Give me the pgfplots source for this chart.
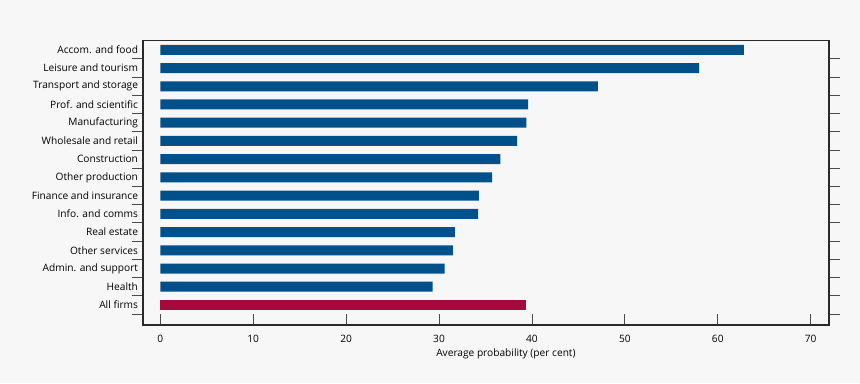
\documentclass[border=0pt]{standalone}
\usepackage{fontspec}
\setmainfont{Open Sans}
\usepackage{pgfplots}
\pgfplotsset{compat=1.18}
\definecolor{bg}{HTML}{F7F7F7}
\definecolor{boeblue}{HTML}{00518A}
\definecolor{boered}{HTML}{A6093D}
\definecolor{axcol}{HTML}{2A2A2A}
\definecolor{tickcol}{HTML}{4A4A4A}
\begin{document}
\begin{tikzpicture}[x=1bp,y=1bp]
\fill[bg] (-143,-58) rectangle (717,325);
\begin{axis}[
  at={(0,0)}, anchor=south west,
  scale only axis,
  width=686bp, height=284.3bp,
  xmin=-1.86, xmax=71.97,
  ymin=-1.1, ymax=14.5,
  axis line style={axcol, line width=1.1pt},
  tick style={tickcol, line width=0.9pt},
  major tick length=11bp,
  tick align=inside,
  xtick={0,10,...,70},
  xtick pos=lower,
  ytick={-0.5,0.5,...,13.5},
  yticklabels={},
  ytick pos=both,
  extra y ticks={0,...,14},
  extra y tick labels={All firms,Health,Admin. and support,Other services,Real estate,Info. and comms,Finance and insurance,Other production,Construction,Wholesale and retail,Manufacturing,Prof. and scientific,Transport and storage,Leisure and tourism,Accom. and food},
  extra y tick style={major tick length=0pt, ytick pos=left, yticklabel style={font=\fontsize{10.2}{11}\selectfont, xshift=-1.5bp}},
  xticklabel style={font=\fontsize{10.2}{11}\selectfont, yshift=-7bp},
  /pgf/number format/assume math mode=true,
  xlabel={Average probability (per cent)},
  xlabel style={font=\fontsize{10.2}{11}\selectfont, at={(axis cs:37.2,-1.1)}, anchor=north, yshift=-20bp},
  xbar, bar width=10bp,
  bar shift=0pt,
]
\addplot[fill=boeblue, draw=none] coordinates {
(29.3,1) (30.6,2) (31.5,3) (31.7,4) (34.2,5) (34.3,6) (35.7,7) (36.6,8) (38.4,9) (39.4,10) (39.6,11) (47.1,12) (58.0,13) (62.8,14)};
\addplot[fill=boered, draw=none] coordinates {(39.4,0)};
\end{axis}
\end{tikzpicture}
\end{document}
